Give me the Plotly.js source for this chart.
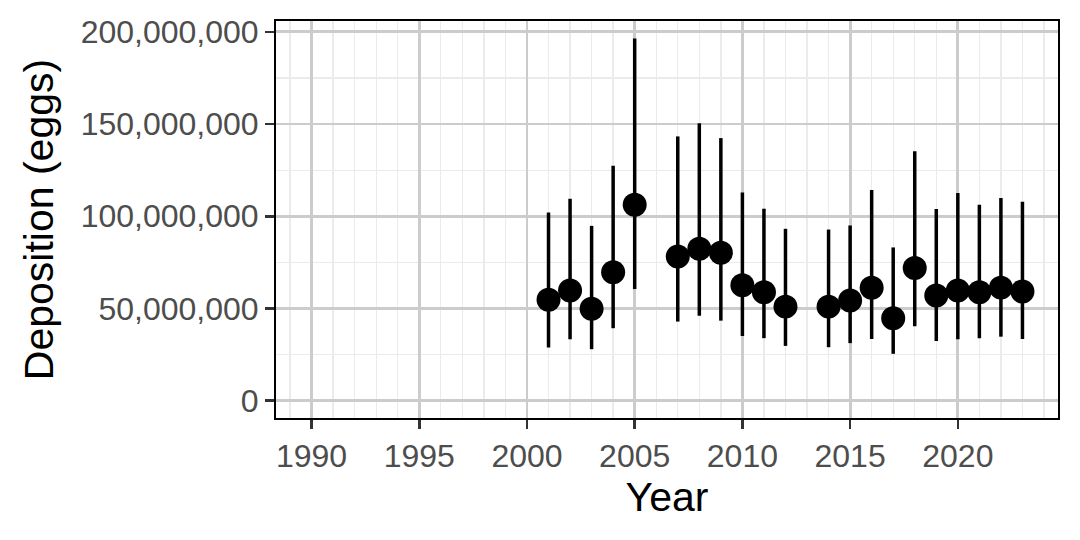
<!DOCTYPE html>
<html>
<head>
<meta charset="utf-8">
<script src="https://cdn.plot.ly/plotly-3.0.1.min.js"></script>
<style>
  html, body { margin: 0; padding: 0; background: #ffffff; }
  #chart { width: 1080px; height: 540px; }
</style>
</head>
<body>
<div id="chart"></div>
<script>
// Data (values in eggs)
const years = [2001, 2002, 2003, 2004, 2005, 2007, 2008, 2009, 2010, 2011, 2012,
               2014, 2015, 2016, 2017, 2018, 2019, 2020, 2021, 2022, 2023];
const deposition = [54.7e6, 59.7e6, 49.9e6, 69.7e6, 106.2e6, 78.2e6, 82.4e6, 80.2e6, 62.6e6, 58.8e6, 51.0e6,
                    51.0e6, 54.3e6, 61.2e6, 44.7e6, 71.9e6, 57.0e6, 59.7e6, 58.8e6, 61.3e6, 59.2e6];
const upper = [102.1e6, 109.5e6, 94.8e6, 127.4e6, 196.4e6, 143.3e6, 150.4e6, 142.4e6, 112.9e6, 104.1e6, 93.2e6,
               92.8e6, 95.0e6, 114.2e6, 83.1e6, 135.2e6, 103.9e6, 112.6e6, 106.2e6, 109.9e6, 107.9e6];
const lower = [28.8e6, 33.3e6, 27.9e6, 39.3e6, 60.5e6, 42.9e6, 46.0e6, 43.4e6, 35.1e6, 33.9e6, 29.7e6,
               29.0e6, 31.2e6, 33.5e6, 25.4e6, 40.4e6, 32.4e6, 33.3e6, 33.9e6, 34.7e6, 33.5e6];

const xTickVals = [1990, 1995, 2000, 2005, 2010, 2015, 2020];
const yTickVals = [0, 50e6, 100e6, 150e6, 200e6];

const errPlus = upper.map((u, i) => u - deposition[i]);
const errMinus = lower.map((l, i) => deposition[i] - l);

const trace = {
  type: 'scatter',
  mode: 'markers',
  x: years,
  y: deposition,
  marker: { color: '#000000', size: 24 },
  error_y: {
    type: 'data',
    symmetric: false,
    array: errPlus,
    arrayminus: errMinus,
    color: '#000000',
    thickness: 3.5,
    width: 0
  },
  hoverinfo: 'x+y'
};

const fontFam = '"Liberation Sans", Arial, Helvetica, sans-serif';

const layout = {
  width: 1080,
  height: 540,
  margin: { l: 276, r: 22, t: 21, b: 122 },
  paper_bgcolor: '#ffffff',
  plot_bgcolor: '#ffffff',
  showlegend: false,
  font: { family: fontFam, color: '#000000' },
  xaxis: {
    range: [1988.35, 2024.65],
    tickvals: xTickVals,
    ticktext: xTickVals.map(String),
    tickfont: { size: 32, color: '#4D4D4D', family: fontFam },
    ticks: 'outside',
    ticklen: 9,
    tickwidth: 2.5,
    tickcolor: '#333333',
    showgrid: true,
    gridcolor: '#CCCCCC',
    gridwidth: 2.8,
    minor: { dtick: 1, tick0: 1990, showgrid: true, gridcolor: '#EBEBEB', gridwidth: 1.3, ticks: '' },
    zeroline: false,
    showline: true,
    linecolor: '#000000',
    linewidth: 2,
    mirror: true,
    title: { text: 'Year', font: { size: 41, color: '#000000', family: fontFam }, standoff: 5 }
  },
  yaxis: {
    range: [-9.4e6, 205.9e6],
    tickvals: yTickVals,
    tickformat: ',d',
    tickfont: { size: 32, color: '#4D4D4D', family: fontFam },
    ticks: 'outside',
    ticklen: 9,
    tickwidth: 2.5,
    tickcolor: '#333333',
    showgrid: true,
    gridcolor: '#CCCCCC',
    gridwidth: 2.8,
    minor: { dtick: 25e6, tick0: 0, showgrid: true, gridcolor: '#EBEBEB', gridwidth: 1.3, ticks: '' },
    zeroline: false,
    showline: true,
    linecolor: '#000000',
    linewidth: 2,
    mirror: true,
    title: { text: 'Deposition (eggs)', font: { size: 41, color: '#000000', family: fontFam }, standoff: 14 }
  }
};

Plotly.newPlot('chart', [trace], layout, { displayModeBar: false, staticPlot: true });
</script>
</body>
</html>
